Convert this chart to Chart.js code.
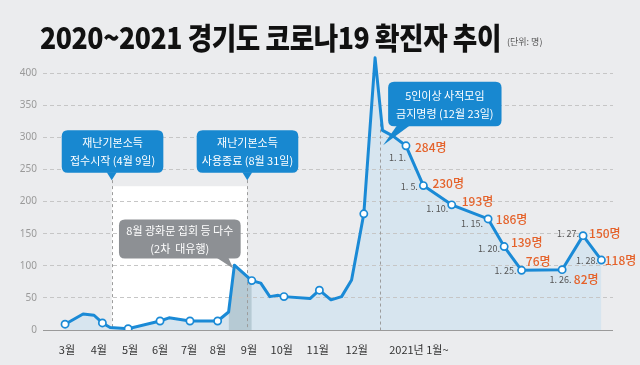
<!DOCTYPE html>
<html><head><meta charset="utf-8">
<script src="https://cdn.jsdelivr.net/npm/chart.js@4/dist/chart.umd.min.js"></script>
<style>
html,body{margin:0;padding:0;background:#ebecee;}
#wrap{position:relative;width:640px;height:365px;overflow:hidden;}
#title{position:absolute;left:40px;top:21px;font-family:'Noto Sans CJK KR';font-weight:900;font-size:30px;line-height:30px;color:#111;white-space:nowrap;transform-origin:0 0;letter-spacing:-0.5px}
#unit{position:absolute;left:507px;top:35px;font-family:'Noto Sans CJK KR';font-size:9px;color:#555;white-space:nowrap}
canvas{position:absolute;left:0;top:0}
</style></head>
<body><div id="wrap"><canvas id="c" width="640" height="365"></canvas><div id="title">2020~2021 경기도 코로나19 확진자 추이</div><div id="unit">(단위: 명)</div></div>
<script>
// ---- data (x in month-timeline units) ----
const xPos = [2.94,3.50,3.84,4.10,4.34,4.90,5.89,6.17,6.82,7.68,8.02,8.20,8.74,9.02,9.30,9.56,9.74,10.55,10.84,11.20,11.53,11.84,12.22,12.57,12.80,13.13,13.53,14.07,14.95,16.08,16.58,17.12,18.38,19.03,19.60];
const cases = [9,25,23,11,4,2,14,19,14,14,28,101,77,73,52,54,52,49,62,47,52,78,181,424,311,302,287,225,195,173,130,93,94,147,109];
const markerIdx = [0,3,5,6,8,9,12,16,18,22,26,27,28,29,30,31,32,33,34];
const darkFrom = 10, darkTo = 12;
const monthTickPos = [3.00,3.99,4.96,5.89,6.79,7.69,8.65,9.67,10.79,12.00,13.93];
const monthLabels = ['3월','4월','5월','6월','7월','8월','9월','10월','11월','12월','2021년 1월~'];
const yTicksMax = 400;
const janIdx = [26,27,28,29,30,31,32,33,34];
const janDates = ['1. 1.','1. 5.','1. 10.','1. 15.','1. 20.','1. 25.','1. 26.','1. 27.','1. 28.'];
const janValues = [284,230,193,186,139,76,82,150,118];
const eventStart = 4.39;   // 4월 9일
const eventEnd = 8.60;     // 8월 31일
const yearDivider = 12.72; // 2021년 시작
const wave2Peak = [8.165, 96];
const order1223 = [12.82, 288];

// ---- styles ----
const BLUE = '#1a8ad6', CALLOUT_BLUE = '#1888d0', GRAY_CALLOUT = '#8d9094';
const ORANGE = '#e5622a';
const labelOffsets = [
  {d:[0,12], v:[9,2]},
  {d:[-5.5,1], v:[9,-2]},
  {d:[-3.4,4], v:[10,-3.6]},
  {d:[-5,5], v:[7.7,0]},
  {d:[-4.3,1.6], v:[6.7,-4]},
  {d:[-5,0], v:[4.3,-9]},
  {d:[9.4,10], v:[11.7,10]},
  {d:[-4,-2.4], v:[6,-2.4]},
  {d:[-3.4,0.7], v:[3.3,0.7]}
];
const callouts = [
  {lines:['재난기본소득','접수시작 (4월 9일)'], at:[eventStart,233.5], bg:CALLOUT_BLUE, box:[-50,-50,101.6,42.7], tail:[[-5,-8],[5,-8]]},
  {lines:['재난기본소득','사용종료 (8월 31일)'], at:[eventEnd,233.5], bg:CALLOUT_BLUE, box:[-50.6,-50,101.6,42.7], tail:[[-5,-8],[5,-8]]},
  {lines:['8월 광화문 집회 등 다수','(2차  대유행)'], at:wave2Peak, bg:GRAY_CALLOUT, box:[-114.3,-49,121.7,39], tail:[[-17,-11],[-5,-11]]},
  {lines:['5인이상 사적모임','금지명령 (12월 23일)'], at:order1223, bg:CALLOUT_BLUE, box:[5,-63.3,113.4,44.3], tail:[[14,-20],[27,-20]]}
];

const pts = xPos.map((x,i)=>({x, y:cases[i]}));
const markerSet = new Set(markerIdx);

function rr(ctx,x,y,w,h,r){
  ctx.beginPath();
  ctx.moveTo(x+r,y);ctx.lineTo(x+w-r,y);ctx.quadraticCurveTo(x+w,y,x+w,y+r);
  ctx.lineTo(x+w,y+h-r);ctx.quadraticCurveTo(x+w,y+h,x+w-r,y+h);
  ctx.lineTo(x+r,y+h);ctx.quadraticCurveTo(x,y+h,x,y+h-r);
  ctx.lineTo(x,y+r);ctx.quadraticCurveTo(x,y,x+r,y);ctx.closePath();
}

const decor = {
  id:'decor',
  beforeDraw(chart){
    const {ctx, scales:{x,y}} = chart;
    ctx.save();
    ctx.fillStyle = '#ffffff';
    const x0 = x.getPixelForValue(eventStart), x1 = x.getPixelForValue(eventEnd);
    const yt = y.getPixelForValue(224), yb = y.getPixelForValue(0);
    ctx.fillRect(x0, yt, x1-x0, yb-yt);
    ctx.restore();
  },
  afterDatasetDraw(chart,args){
    if(args.index !== 1) return;
    const {ctx, chartArea, scales:{x,y}} = chart;
    if (y.drawGrid) y.drawGrid(chartArea);
    ctx.save();
    ctx.strokeStyle = '#9c9c9c'; ctx.lineWidth = 1; ctx.setLineDash([3,3]);
    [[eventStart,233.5],[eventEnd,233.5],[yearDivider,331]].forEach(([xv,yv])=>{
      const px = Math.round(x.getPixelForValue(xv))+0.5;
      ctx.beginPath(); ctx.moveTo(px, y.getPixelForValue(yv)); ctx.lineTo(px, y.getPixelForValue(0)); ctx.stroke();
    });
    ctx.setLineDash([]);
    ctx.strokeStyle = '#9a9a9a';
    const py = Math.round(y.getPixelForValue(0))+0.5;
    ctx.beginPath(); ctx.moveTo(chartArea.left, py); ctx.lineTo(chartArea.right, py); ctx.stroke();
    ctx.restore();
  },
  afterDatasetsDraw(chart){
    const {ctx, scales:{x,y}} = chart;
    ctx.save();
    // point labels
    janIdx.forEach((idx,k)=>{
      const px = x.getPixelForValue(xPos[idx]), py = y.getPixelForValue(cases[idx]);
      const o = labelOffsets[k];
      ctx.textBaseline = 'middle';
      ctx.font = '9px "Noto Sans CJK KR"'; ctx.fillStyle = '#555'; ctx.textAlign = 'right';
      ctx.fillText(janDates[k], px+o.d[0], py+o.d[1]);
      ctx.font = '500 12px "Noto Sans CJK KR"'; ctx.fillStyle = ORANGE; ctx.textAlign = 'left';
      ctx.fillText(janValues[k]+'명', px+o.v[0], py+o.v[1]);
    });
    // callouts
    callouts.forEach(c=>{
      const tx = x.getPixelForValue(c.at[0]), ty = y.getPixelForValue(c.at[1]);
      const [bx,by,w,h] = c.box;
      ctx.fillStyle = c.bg;
      rr(ctx, tx+bx, ty+by, w, h, 6); ctx.fill();
      ctx.beginPath();
      ctx.moveTo(tx+c.tail[0][0], ty+c.tail[0][1]);
      ctx.lineTo(tx+c.tail[1][0], ty+c.tail[1][1]);
      ctx.lineTo(tx, ty); ctx.closePath(); ctx.fill();
      ctx.fillStyle = '#ffffff'; ctx.font = '11px "Noto Sans CJK KR"';
      ctx.textAlign = 'center'; ctx.textBaseline = 'middle';
      const cx = tx+bx+w/2, cy = ty+by+h/2;
      ctx.fillText(c.lines[0], cx, cy-8.5);
      ctx.fillText(c.lines[1], cx, cy+9.5);
    });
    ctx.restore();
  }
};

new Chart(document.getElementById('c'), {
  type:'line',
  data:{datasets:[
    {data:pts, borderColor:BLUE, borderWidth:3, fill:false, order:0, tension:0,
     borderJoinStyle:'round', borderCapStyle:'round',
     pointRadius:ctx=>markerSet.has(ctx.dataIndex)?3.6:0,
     pointBackgroundColor:'#ffffff', pointBorderColor:BLUE, pointBorderWidth:1.7},
    {data:pts.slice(darkFrom, darkTo+1), borderWidth:0, pointRadius:0, fill:'origin', backgroundColor:'#b6cad4', order:1},
    {data:pts, borderWidth:0, pointRadius:0, fill:'origin', backgroundColor:'#d7e5ef', order:2}
  ]},
  options:{
    responsive:false, animation:false, devicePixelRatio:1,
    layout:{padding:{top:54,right:27,left:0,bottom:0}},
    plugins:{legend:{display:false}, tooltip:{enabled:false}},
    scales:{
      x:{type:'linear', min:2.255, max:19.96,
        grid:{display:false, drawTicks:false}, border:{display:false},
        afterBuildTicks:s=>{ s.ticks = monthTickPos.map(v=>({value:v})); },
        afterFit:s=>{ s.height = 35; },
        ticks:{autoSkip:false, maxRotation:0, padding:13, color:'#333',
          font:{family:'Noto Sans CJK KR', size:11},
          callback:(v,i)=>monthLabels[i]}
      },
      y:{min:0, max:430,
        afterBuildTicks:s=>{ s.ticks = s.ticks.filter(t=>t.value<=yTicksMax); },
        afterFit:s=>{ s.width = 43; },
        grid:{drawTicks:false, color:ctx=>ctx.tick && ctx.tick.value===0?'rgba(0,0,0,0)':'#c6c6c6'},
        border:{display:false, dash:[4,3]},
        ticks:{stepSize:50, padding:6, color:'#9a9a9a', font:{family:'Noto Sans', size:10}}
      }
    }
  },
  plugins:[decor]
});

(document.fonts ? document.fonts.ready : Promise.resolve()).then(()=>{
  const t = document.getElementById('title');
  const w = t.getBoundingClientRect().width;
  if (w>0) t.style.transform = 'scaleX(' + (461/w) + ')';
});
</script>
</body></html>
